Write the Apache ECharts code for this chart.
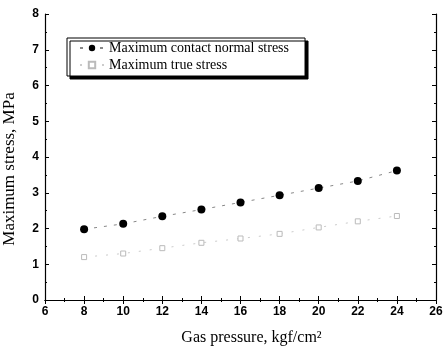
<!DOCTYPE html>
<html><head><meta charset="utf-8">
<script src="https://cdn.jsdelivr.net/npm/echarts@6/dist/echarts.min.js"></script>
<style>html,body{margin:0;padding:0;background:#fff}#c{width:446px;height:348px}</style>
</head><body><div id="c"></div>
<script>
const gasPressure = [8, 10, 12, 14, 16, 18, 20, 22, 24];
const contactStress = [1.98, 2.13, 2.34, 2.53, 2.73, 2.93, 3.13, 3.33, 3.62];
const trueStress = [1.2, 1.3, 1.45, 1.6, 1.72, 1.85, 2.03, 2.2, 2.35];
const seriesNames = ['Maximum contact normal stress', 'Maximum true stress'];
const xTitle = 'Gas pressure, kgf/cm²';
const yTitle = 'Maximum stress, MPa';

const chart = echarts.init(document.getElementById('c'));
const tickFont = {fontFamily: 'Liberation Sans, Arial', fontSize: 12, color: '#000', fontWeight: 'bold'};
const axisCommon = {
  axisLine: {show: true, lineStyle: {color: '#000', width: 1.2}},
  axisTick: {show: true, inside: true, length: 4, lineStyle: {color: '#000'}},
  minorTick: {show: true, splitNumber: 2, length: 2, lineStyle: {color: '#000'}},
  splitLine: {show: false}
};
chart.setOption({
  animation: false,
  backgroundColor: '#fff',
  grid: {left: 45, right: 10, top: 14, bottom: 48, containLabel: false, outerBoundsMode: 'none'},
  legend: {
    orient: 'vertical', left: 67, top: 38,
    padding: [3, 16, 4, 12], itemGap: 3,
    itemWidth: 24, itemHeight: 8,
    backgroundColor: '#fff', borderColor: '#000', borderWidth: 1,
    shadowColor: '#000', shadowBlur: 0, shadowOffsetX: 3, shadowOffsetY: 3,
    textStyle: {fontFamily: 'Liberation Serif, Times New Roman', fontSize: 14, color: '#000'},
    data: seriesNames
  },
  xAxis: [
    Object.assign({type: 'value', min: 6, max: 26, interval: 2, position: 'bottom',
      name: xTitle, nameLocation: 'middle', nameGap: 30,
      nameTextStyle: {fontFamily: 'Liberation Serif, Times New Roman', fontSize: 16, color: '#000', padding: [0, 0, 0, 22]},
      axisLabel: Object.assign({margin: 6}, tickFont)}, axisCommon),
    Object.assign({type: 'value', min: 6, max: 26, interval: 2, position: 'top',
      axisLabel: {show: false}}, axisCommon)
  ],
  yAxis: [
    Object.assign({type: 'value', min: 0, max: 8, interval: 1, position: 'left',
      name: yTitle, nameLocation: 'middle', nameGap: 27,
      nameTextStyle: {fontFamily: 'Liberation Serif, Times New Roman', fontSize: 17, color: '#000', padding: [0, 24, 0, 0]},
      axisLabel: Object.assign({margin: 6}, tickFont)}, axisCommon),
    Object.assign({type: 'value', min: 0, max: 8, interval: 1, position: 'right',
      axisLabel: {show: false}}, axisCommon)
  ],
  series: [
    {name: seriesNames[0], type: 'line', symbol: 'circle', symbolSize: 8,
     itemStyle: {color: '#000'},
     lineStyle: {color: '#888', width: 1, type: [3, 7]},
     data: gasPressure.map((x, i) => [x, contactStress[i]])},
    {name: seriesNames[1], type: 'line', symbol: 'rect', symbolSize: 5,
     itemStyle: {color: '#fff', borderColor: '#bbb', borderWidth: 1},
     lineStyle: {color: '#ccc', width: 1, type: [2, 9]},
     data: gasPressure.map((x, i) => [x, trueStress[i]])}
  ]
});
</script></body></html>
